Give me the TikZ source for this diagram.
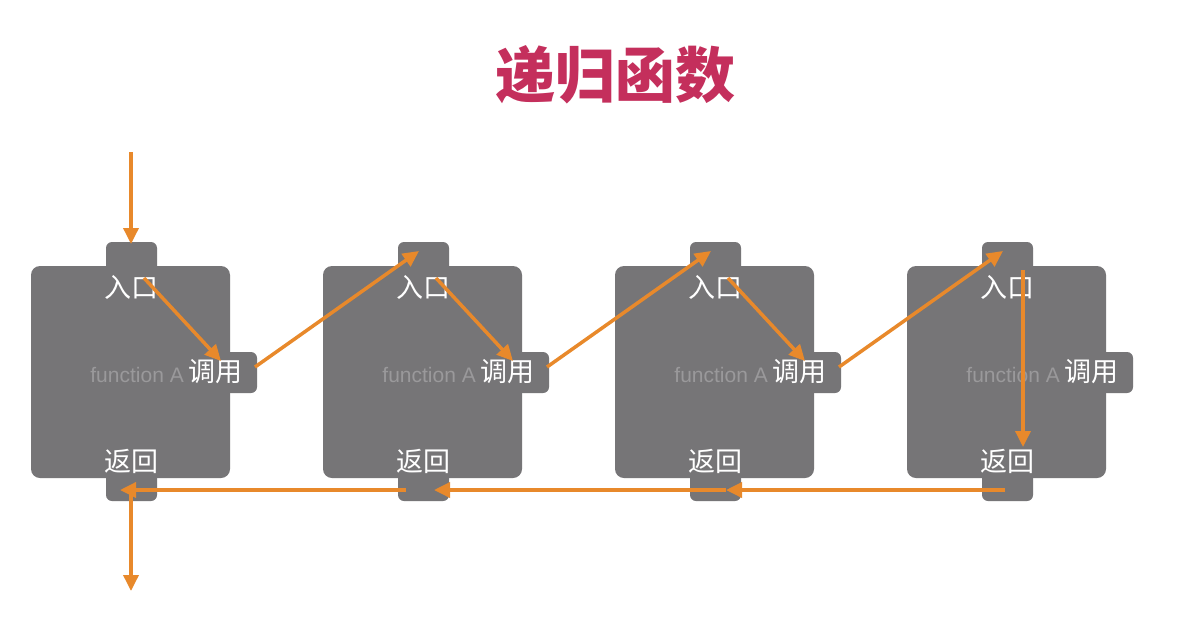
\documentclass[tikz,border=0pt]{standalone}
\usepackage{fontspec}
\setmainfont{Liberation Sans}
\newfontfamily\cjk{Noto Sans CJK SC}
\usetikzlibrary{arrows.meta}
\definecolor{boxgray}{HTML}{767577}
\definecolor{arrorange}{HTML}{E8892B}
\definecolor{titlered}{HTML}{C42F5C}
\definecolor{fngray}{HTML}{9A999B}
\begin{document}
\begin{tikzpicture}[x=1pt,y=-1pt,
    flowline/.style={line width=3.5pt, draw=arrorange, -{Triangle[length=16pt,width=15pt]}},
    body/.style={fill=boxgray, rounded corners=9pt},
    tab/.style={fill=boxgray, rounded corners=6pt},
    lbl/.style={text=white, font=\cjk\fontsize{27}{27}\selectfont, inner sep=0pt},
    fnlbl/.style={text=fngray, font=\fontsize{21}{21}\selectfont, inner sep=0pt}]
    \useasboundingbox[fill=white] (0,0) rectangle (1185,643);

    \node[text=titlered, font=\cjk\bfseries\fontsize{60}{60}\selectfont] (title) at (615,75) {递归函数};

    % the four copies of function A
    \foreach \i in {1,...,4} {
        \begin{scope}[shift={({31+292*(\i-1)},0)}]
            \fill[tab] (75,242) rectangle (126,501);
            \fill[tab] (180,352) rectangle (226,393);
            \fill[body] (0,266) rectangle (199,478);
            \node[lbl] (in\i) at (100,287) {入口};
            \node[lbl, anchor=west] (call\i) at (157,372) {调用};
            \node[lbl] (ret\i) at (100,461) {返回};
            \node[fnlbl, anchor=east] (fn\i) at (153,375) {function A};
            \coordinate (go\i) at (113,278);
            \coordinate (hit\i) at (190,361);
            \coordinate (out\i) at (224,367);
            \coordinate (entry\i) at (96,251);
            \coordinate (bk\i) at (111,490);
            \coordinate (bkout\i) at (83,490);
        \end{scope}
    }

    \coordinate (start) at (131,152);
    \coordinate (top1) at (131,244);
    \coordinate (bk0) at (120,490);
    \coordinate (down) at (131,492);
    \coordinate (exit) at (131,591);
    \coordinate (deep) at (1023,270);
    \coordinate (bottom) at (1023,447);
    \coordinate (back) at (1005,490);

    % calls going in
    \draw[flowline] (start) -- (top1);
    \foreach \i in {1,2,3} \draw[flowline] (go\i) -- (hit\i);
    \foreach \i/\j in {1/2,2/3,3/4} \draw[flowline] (out\i) -- (entry\j);
    \draw[flowline] (deep) -- (bottom);

    % returns coming back
    \draw[flowline] (back) -- (bk3);
    \draw[flowline] (bk3) -- (bk2);
    \draw[flowline] (bkout2) -- (bk0);
    \draw[flowline] (down) -- (exit);
\end{tikzpicture}
\end{document}
